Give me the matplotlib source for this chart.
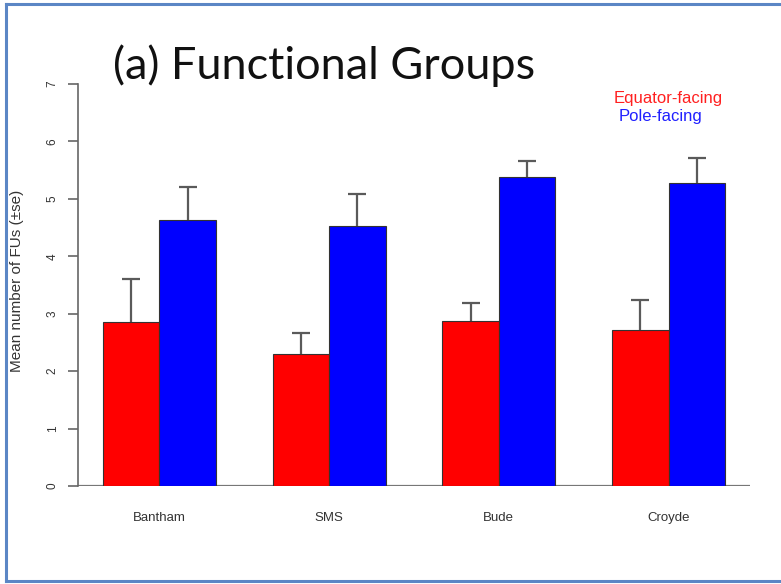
import numpy as np
import matplotlib
matplotlib.use("Agg")
import matplotlib.pyplot as plt
from matplotlib.lines import Line2D

# mean number of functional units per site, with standard errors
sites = ["Bantham", "SMS", "Bude", "Croyde"]
equator_mean = [2.86, 2.29, 2.88, 2.72]
equator_se = [0.75, 0.37, 0.30, 0.52]
pole_mean = [4.63, 4.52, 5.38, 5.27]
pole_se = [0.58, 0.57, 0.28, 0.44]

plt.rcParams["font.family"] = ["Liberation Sans", "DejaVu Sans"]

fig = plt.figure(figsize=(7.81, 5.84), dpi=100)
W, H = 781, 584

# frame around the slide
fig.add_artist(Line2D([6 / W, 6 / W], [1 - 4 / H, 1 - 581 / H], color="#5b86c5", lw=2.2))
fig.add_artist(Line2D([6 / W, 1], [1 - 4 / H, 1 - 4 / H], color="#5b86c5", lw=2.2))
fig.add_artist(Line2D([6 / W, 1], [1 - 581 / H, 1 - 581 / H], color="#5b86c5", lw=2.2))

ax = fig.add_axes([78 / W, 1 - 486 / H, (750 - 78) / W, (486 - 84) / H])

# R-style grouped bars: width 1, one bar of space between groups
x = np.arange(len(sites)) * 3
x_eq = x + 1.5
x_pole = x + 2.5
ax.bar(x_eq, equator_mean, width=1, color="#ff0000", edgecolor="#333333", linewidth=0.8)
ax.bar(x_pole, pole_mean, width=1, color="#0000ff", edgecolor="#333333", linewidth=0.8)

# upper error bars only, with a cap on top
cap = 0.16
for xs, m, se in [(x_eq, equator_mean, equator_se), (x_pole, pole_mean, pole_se)]:
    top = np.array(m) + np.array(se)
    ax.vlines(xs, m, top, color="#5a5a5a", lw=1.6)
    ax.hlines(top, xs - cap, xs + cap, color="#5a5a5a", lw=1.6)

ax.set_xlim(0.56, 12.44)
ax.set_ylim(0, 7)
ax.axhline(0, color="#777777", lw=1.6, zorder=0)

for s in ["top", "right", "bottom"]:
    ax.spines[s].set_visible(False)
ax.spines["left"].set_color("#666666")
ax.spines["left"].set_linewidth(1.2)
ax.spines["left"].set_bounds(0, 7)

ax.set_yticks(range(8))
ax.set_yticklabels([str(v) for v in range(8)], rotation=90, va="center",
                   fontsize=8.5, color="#333333")
ax.tick_params(axis="y", length=7, width=1.2, color="#666666", pad=7)

ax.set_xticks(x + 2)
ax.set_xticklabels(sites, fontsize=9.5, color="#333333")
ax.tick_params(axis="x", length=0, pad=19)

fig.text(17 / W, 1 - 281 / H, "Mean number of FUs (\u00b1se)", rotation=90,
         ha="center", va="center", fontsize=11, color="#333333")

fig.text(113 / W, 1 - 79 / H, "(a) Functional Groups", fontsize=32.5,
         family=["Lato", "DejaVu Sans"], color="#111111", ha="left", va="baseline")

fig.text(614 / W, 1 - 98 / H, "Equator-facing", color="#ff2020", fontsize=12,
         ha="left", va="center")
fig.text(619 / W, 1 - 117 / H, "Pole-facing", color="#2020ff", fontsize=12,
         ha="left", va="center")

fig.savefig("out.png", dpi=100)
